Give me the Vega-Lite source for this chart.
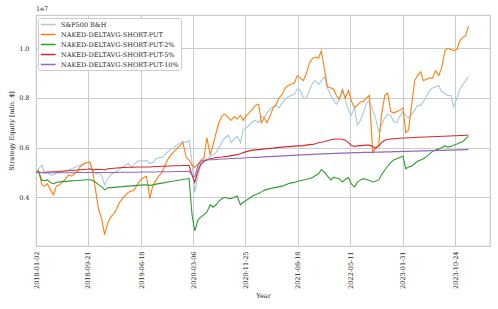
{
  "$schema": "https://vega.github.io/schema/vega-lite/v6.json",
  "width": 454,
  "height": 231,
  "autosize": "none",
  "padding": {"left": 36, "top": 15, "right": 8, "bottom": 63},
  "background": "white",
  "config": {
    "font": "DejaVu Serif",
    "view": {"stroke": "#cccccc", "strokeWidth": 1.2},
    "axis": {"grid": true, "gridColor": "#cccccc", "gridWidth": 1, "domain": false, "ticks": false, "labelFont": "DejaVu Serif", "labelFontSize": 6.5, "labelColor": "#262626", "titleFont": "DejaVu Serif", "titleFontSize": 6.5, "titleFontWeight": "normal", "titleColor": "#262626"},
    "legend": {"orient": "none", "legendX": 2, "legendY": 3, "fillColor": "white", "strokeColor": "#cccccc", "padding": 2, "cornerRadius": 2, "symbolType": "M-1,0H3", "symbolStrokeWidth": 1.5, "symbolSize": 55, "labelFont": "DejaVu Serif", "labelFontSize": 6.5, "labelColor": "#262626", "rowPadding": 2, "labelOffset": 12}
  },
  "title": {"text": "1e7", "anchor": "start", "frame": "group", "fontSize": 6.5, "fontWeight": "normal", "font": "DejaVu Serif", "color": "#262626", "offset": 3},
  "data": {"values": [
    {"d":"2018-01-02","spx":5.0e6,"naked":5.0e6,"p2":5.0e6,"p5":5.0e6,"p10":5.0e6},
    {"d":"2018-01-15","spx":5.15e6,"naked":5.08e6,"p2":5.02e6,"p5":5.01e6,"p10":5.0e6},
    {"d":"2018-02-01","spx":5.3e6,"naked":4.5e6,"p2":4.68e6,"p5":5.0e6,"p10":4.99e6},
    {"d":"2018-02-15","spx":4.95e6,"naked":4.45e6,"p2":4.68e6,"p5":5.01e6,"p10":4.99e6},
    {"d":"2018-03-01","spx":5.0e6,"naked":4.55e6,"p2":4.7e6,"p5":5.02e6,"p10":4.99e6},
    {"d":"2018-03-15","spx":4.9e6,"naked":4.3e6,"p2":4.6e6,"p5":5.02e6,"p10":4.99e6},
    {"d":"2018-04-01","spx":4.9e6,"naked":4.1e6,"p2":4.55e6,"p5":5.03e6,"p10":4.99e6},
    {"d":"2018-04-15","spx":5.0e6,"naked":4.45e6,"p2":4.6e6,"p5":5.03e6,"p10":4.99e6},
    {"d":"2018-05-01","spx":5.0e6,"naked":4.5e6,"p2":4.62e6,"p5":5.05e6,"p10":4.99e6},
    {"d":"2018-05-15","spx":5.05e6,"naked":4.6e6,"p2":4.63e6,"p5":5.05e6,"p10":4.99e6},
    {"d":"2018-06-01","spx":5.08e6,"naked":4.75e6,"p2":4.64e6,"p5":5.06e6,"p10":4.99e6},
    {"d":"2018-06-15","spx":5.1e6,"naked":4.9e6,"p2":4.65e6,"p5":5.07e6,"p10":4.99e6},
    {"d":"2018-07-01","spx":5.15e6,"naked":4.85e6,"p2":4.66e6,"p5":5.08e6,"p10":4.99e6},
    {"d":"2018-07-15","spx":5.2e6,"naked":4.95e6,"p2":4.67e6,"p5":5.09e6,"p10":4.99e6},
    {"d":"2018-08-01","spx":5.25e6,"naked":5.05e6,"p2":4.68e6,"p5":5.1e6,"p10":5.0e6},
    {"d":"2018-08-15","spx":5.3e6,"naked":5.25e6,"p2":4.69e6,"p5":5.11e6,"p10":5.0e6},
    {"d":"2018-09-01","spx":5.35e6,"naked":5.35e6,"p2":4.7e6,"p5":5.12e6,"p10":5.0e6},
    {"d":"2018-09-15","spx":5.4e6,"naked":5.4e6,"p2":4.71e6,"p5":5.13e6,"p10":5.0e6},
    {"d":"2018-10-01","spx":5.38e6,"naked":5.42e6,"p2":4.71e6,"p5":5.15e6,"p10":5.0e6},
    {"d":"2018-10-15","spx":5.1e6,"naked":5.1e6,"p2":4.68e6,"p5":5.1e6,"p10":5.0e6},
    {"d":"2018-11-01","spx":4.95e6,"naked":4.2e6,"p2":4.6e6,"p5":5.13e6,"p10":5.0e6},
    {"d":"2018-11-15","spx":5.0e6,"naked":3.5e6,"p2":4.5e6,"p5":5.12e6,"p10":5.0e6},
    {"d":"2018-12-01","spx":4.85e6,"naked":3.1e6,"p2":4.42e6,"p5":5.12e6,"p10":5.0e6},
    {"d":"2018-12-15","spx":4.5e6,"naked":2.5e6,"p2":4.3e6,"p5":5.1e6,"p10":5.0e6},
    {"d":"2019-01-01","spx":4.75e6,"naked":3.0e6,"p2":4.38e6,"p5":5.15e6,"p10":5.0e6},
    {"d":"2019-01-15","spx":4.9e6,"naked":3.2e6,"p2":4.39e6,"p5":5.16e6,"p10":5.0e6},
    {"d":"2019-02-01","spx":5.0e6,"naked":3.35e6,"p2":4.4e6,"p5":5.17e6,"p10":5.0e6},
    {"d":"2019-02-15","spx":5.05e6,"naked":3.55e6,"p2":4.41e6,"p5":5.18e6,"p10":5.0e6},
    {"d":"2019-03-01","spx":5.15e6,"naked":3.8e6,"p2":4.42e6,"p5":5.19e6,"p10":5.01e6},
    {"d":"2019-03-15","spx":5.2e6,"naked":3.95e6,"p2":4.43e6,"p5":5.2e6,"p10":5.01e6},
    {"d":"2019-04-01","spx":5.3e6,"naked":4.1e6,"p2":4.45e6,"p5":5.2e6,"p10":5.01e6},
    {"d":"2019-04-15","spx":5.35e6,"naked":4.2e6,"p2":4.45e6,"p5":5.21e6,"p10":5.01e6},
    {"d":"2019-05-01","spx":5.2e6,"naked":4.25e6,"p2":4.46e6,"p5":5.21e6,"p10":5.01e6},
    {"d":"2019-05-15","spx":5.35e6,"naked":4.3e6,"p2":4.47e6,"p5":5.21e6,"p10":5.01e6},
    {"d":"2019-06-01","spx":5.45e6,"naked":4.55e6,"p2":4.48e6,"p5":5.22e6,"p10":5.01e6},
    {"d":"2019-06-15","spx":5.5e6,"naked":4.7e6,"p2":4.49e6,"p5":5.22e6,"p10":5.02e6},
    {"d":"2019-07-01","spx":5.45e6,"naked":4.8e6,"p2":4.5e6,"p5":5.22e6,"p10":5.02e6},
    {"d":"2019-07-15","spx":5.5e6,"naked":4.85e6,"p2":4.5e6,"p5":5.22e6,"p10":5.02e6},
    {"d":"2019-08-01","spx":5.35e6,"naked":3.95e6,"p2":4.48e6,"p5":5.22e6,"p10":5.02e6},
    {"d":"2019-08-15","spx":5.4e6,"naked":4.45e6,"p2":4.5e6,"p5":5.23e6,"p10":5.02e6},
    {"d":"2019-09-01","spx":5.55e6,"naked":4.7e6,"p2":4.53e6,"p5":5.24e6,"p10":5.02e6},
    {"d":"2019-09-15","spx":5.6e6,"naked":4.85e6,"p2":4.55e6,"p5":5.24e6,"p10":5.03e6},
    {"d":"2019-10-01","spx":5.6e6,"naked":5.0e6,"p2":4.57e6,"p5":5.25e6,"p10":5.03e6},
    {"d":"2019-10-15","spx":5.7e6,"naked":5.25e6,"p2":4.59e6,"p5":5.25e6,"p10":5.03e6},
    {"d":"2019-11-01","spx":5.85e6,"naked":5.55e6,"p2":4.62e6,"p5":5.26e6,"p10":5.03e6},
    {"d":"2019-11-15","spx":5.95e6,"naked":5.7e6,"p2":4.64e6,"p5":5.26e6,"p10":5.03e6},
    {"d":"2019-12-01","spx":6.0e6,"naked":5.85e6,"p2":4.66e6,"p5":5.27e6,"p10":5.04e6},
    {"d":"2019-12-15","spx":6.1e6,"naked":5.95e6,"p2":4.68e6,"p5":5.27e6,"p10":5.04e6},
    {"d":"2020-01-01","spx":6.2e6,"naked":6.1e6,"p2":4.7e6,"p5":5.27e6,"p10":5.04e6},
    {"d":"2020-01-15","spx":6.25e6,"naked":6.2e6,"p2":4.73e6,"p5":5.28e6,"p10":5.04e6},
    {"d":"2020-02-01","spx":6.2e6,"naked":5.6e6,"p2":4.74e6,"p5":5.28e6,"p10":5.04e6},
    {"d":"2020-02-15","spx":6.3e6,"naked":5.5e6,"p2":4.76e6,"p5":5.28e6,"p10":5.05e6},
    {"d":"2020-03-01","spx":5.4e6,"naked":5.3e6,"p2":3.3e6,"p5":4.9e6,"p10":4.9e6},
    {"d":"2020-03-15","spx":4.2e6,"naked":5.2e6,"p2":2.65e6,"p5":4.6e6,"p10":4.82e6},
    {"d":"2020-04-01","spx":4.9e6,"naked":5.35e6,"p2":3.1e6,"p5":5.1e6,"p10":5.3e6},
    {"d":"2020-04-15","spx":5.3e6,"naked":5.5e6,"p2":3.2e6,"p5":5.35e6,"p10":5.45e6},
    {"d":"2020-05-01","spx":5.45e6,"naked":5.6e6,"p2":3.3e6,"p5":5.45e6,"p10":5.5e6},
    {"d":"2020-05-15","spx":5.5e6,"naked":6.4e6,"p2":3.4e6,"p5":5.5e6,"p10":5.5e6},
    {"d":"2020-06-01","spx":5.65e6,"naked":5.7e6,"p2":3.7e6,"p5":5.55e6,"p10":5.51e6},
    {"d":"2020-06-15","spx":5.7e6,"naked":6.1e6,"p2":3.6e6,"p5":5.57e6,"p10":5.51e6},
    {"d":"2020-07-01","spx":5.8e6,"naked":6.6e6,"p2":3.7e6,"p5":5.6e6,"p10":5.52e6},
    {"d":"2020-07-15","spx":6.0e6,"naked":7.0e6,"p2":3.85e6,"p5":5.61e6,"p10":5.53e6},
    {"d":"2020-08-01","spx":6.25e6,"naked":7.3e6,"p2":3.95e6,"p5":5.62e6,"p10":5.54e6},
    {"d":"2020-08-15","spx":6.4e6,"naked":7.35e6,"p2":4.0e6,"p5":5.64e6,"p10":5.54e6},
    {"d":"2020-09-01","spx":6.5e6,"naked":7.2e6,"p2":3.95e6,"p5":5.66e6,"p10":5.55e6},
    {"d":"2020-09-15","spx":6.2e6,"naked":7.1e6,"p2":3.95e6,"p5":5.68e6,"p10":5.56e6},
    {"d":"2020-10-01","spx":6.35e6,"naked":7.25e6,"p2":4.0e6,"p5":5.7e6,"p10":5.56e6},
    {"d":"2020-10-15","spx":6.45e6,"naked":7.15e6,"p2":4.05e6,"p5":5.72e6,"p10":5.57e6},
    {"d":"2020-11-01","spx":6.2e6,"naked":7.3e6,"p2":3.7e6,"p5":5.75e6,"p10":5.57e6},
    {"d":"2020-11-15","spx":6.7e6,"naked":7.1e6,"p2":3.8e6,"p5":5.8e6,"p10":5.58e6},
    {"d":"2020-12-01","spx":6.8e6,"naked":7.3e6,"p2":3.88e6,"p5":5.84e6,"p10":5.59e6},
    {"d":"2020-12-15","spx":6.9e6,"naked":7.4e6,"p2":3.95e6,"p5":5.87e6,"p10":5.6e6},
    {"d":"2021-01-01","spx":7.05e6,"naked":7.55e6,"p2":4.05e6,"p5":5.9e6,"p10":5.6e6},
    {"d":"2021-01-15","spx":7.1e6,"naked":7.7e6,"p2":4.1e6,"p5":5.91e6,"p10":5.61e6},
    {"d":"2021-02-01","spx":7.0e6,"naked":7.75e6,"p2":4.15e6,"p5":5.92e6,"p10":5.61e6},
    {"d":"2021-02-15","spx":7.25e6,"naked":7.0e6,"p2":4.22e6,"p5":5.93e6,"p10":5.62e6},
    {"d":"2021-03-01","spx":7.2e6,"naked":7.2e6,"p2":4.28e6,"p5":5.95e6,"p10":5.63e6},
    {"d":"2021-03-15","spx":7.4e6,"naked":7.0e6,"p2":4.32e6,"p5":5.96e6,"p10":5.64e6},
    {"d":"2021-04-01","spx":7.55e6,"naked":7.3e6,"p2":4.35e6,"p5":5.97e6,"p10":5.64e6},
    {"d":"2021-04-15","spx":7.65e6,"naked":7.6e6,"p2":4.38e6,"p5":5.98e6,"p10":5.65e6},
    {"d":"2021-05-01","spx":7.7e6,"naked":7.75e6,"p2":4.4e6,"p5":6.0e6,"p10":5.65e6},
    {"d":"2021-05-15","spx":7.6e6,"naked":8.0e6,"p2":4.43e6,"p5":6.01e6,"p10":5.66e6},
    {"d":"2021-06-01","spx":7.8e6,"naked":8.15e6,"p2":4.45e6,"p5":6.02e6,"p10":5.67e6},
    {"d":"2021-06-15","spx":7.95e6,"naked":8.4e6,"p2":4.5e6,"p5":6.03e6,"p10":5.67e6},
    {"d":"2021-07-01","spx":8.05e6,"naked":8.5e6,"p2":4.55e6,"p5":6.04e6,"p10":5.68e6},
    {"d":"2021-07-15","spx":8.1e6,"naked":8.55e6,"p2":4.58e6,"p5":6.05e6,"p10":5.69e6},
    {"d":"2021-08-01","spx":8.15e6,"naked":8.6e6,"p2":4.6e6,"p5":6.06e6,"p10":5.69e6},
    {"d":"2021-08-15","spx":8.35e6,"naked":8.9e6,"p2":4.64e6,"p5":6.07e6,"p10":5.7e6},
    {"d":"2021-09-01","spx":8.3e6,"naked":8.8e6,"p2":4.68e6,"p5":6.07e6,"p10":5.71e6},
    {"d":"2021-09-15","spx":8.0e6,"naked":8.7e6,"p2":4.7e6,"p5":6.08e6,"p10":5.71e6},
    {"d":"2021-10-01","spx":8.0e6,"naked":9.0e6,"p2":4.72e6,"p5":6.1e6,"p10":5.72e6},
    {"d":"2021-10-15","spx":8.3e6,"naked":9.4e6,"p2":4.76e6,"p5":6.12e6,"p10":5.72e6},
    {"d":"2021-11-01","spx":8.6e6,"naked":9.6e6,"p2":4.8e6,"p5":6.13e6,"p10":5.73e6},
    {"d":"2021-11-15","spx":8.7e6,"naked":9.65e6,"p2":4.88e6,"p5":6.16e6,"p10":5.74e6},
    {"d":"2021-12-01","spx":8.55e6,"naked":9.6e6,"p2":4.95e6,"p5":6.2e6,"p10":5.74e6},
    {"d":"2021-12-15","spx":8.7e6,"naked":9.9e6,"p2":5.12e6,"p5":6.22e6,"p10":5.75e6},
    {"d":"2022-01-01","spx":8.85e6,"naked":9.1e6,"p2":5.0e6,"p5":6.25e6,"p10":5.75e6},
    {"d":"2022-01-15","spx":8.4e6,"naked":8.45e6,"p2":4.85e6,"p5":6.28e6,"p10":5.76e6},
    {"d":"2022-02-01","spx":8.1e6,"naked":8.4e6,"p2":4.7e6,"p5":6.32e6,"p10":5.76e6},
    {"d":"2022-02-15","spx":7.9e6,"naked":8.35e6,"p2":4.8e6,"p5":6.34e6,"p10":5.77e6},
    {"d":"2022-03-01","spx":7.75e6,"naked":8.1e6,"p2":4.78e6,"p5":6.35e6,"p10":5.77e6},
    {"d":"2022-03-15","spx":7.9e6,"naked":7.95e6,"p2":4.75e6,"p5":6.35e6,"p10":5.78e6},
    {"d":"2022-04-01","spx":8.4e6,"naked":8.3e6,"p2":4.62e6,"p5":6.34e6,"p10":5.78e6},
    {"d":"2022-04-15","spx":7.9e6,"naked":8.0e6,"p2":4.72e6,"p5":6.3e6,"p10":5.78e6},
    {"d":"2022-05-01","spx":7.5e6,"naked":8.3e6,"p2":4.8e6,"p5":6.2e6,"p10":5.79e6},
    {"d":"2022-05-15","spx":7.3e6,"naked":7.9e6,"p2":4.55e6,"p5":6.1e6,"p10":5.79e6},
    {"d":"2022-06-01","spx":7.6e6,"naked":7.6e6,"p2":4.42e6,"p5":6.05e6,"p10":5.8e6},
    {"d":"2022-06-15","spx":6.9e6,"naked":7.7e6,"p2":4.6e6,"p5":6.07e6,"p10":5.8e6},
    {"d":"2022-07-01","spx":7.1e6,"naked":7.85e6,"p2":4.7e6,"p5":6.08e6,"p10":5.8e6},
    {"d":"2022-07-15","spx":7.4e6,"naked":7.85e6,"p2":4.75e6,"p5":6.09e6,"p10":5.81e6},
    {"d":"2022-08-01","spx":7.8e6,"naked":8.0e6,"p2":4.72e6,"p5":6.1e6,"p10":5.81e6},
    {"d":"2022-08-15","spx":7.9e6,"naked":8.1e6,"p2":4.68e6,"p5":6.1e6,"p10":5.81e6},
    {"d":"2022-09-01","spx":7.5e6,"naked":5.8e6,"p2":4.62e6,"p5":6.05e6,"p10":5.81e6},
    {"d":"2022-09-15","spx":7.2e6,"naked":6.0e6,"p2":4.65e6,"p5":5.98e6,"p10":5.82e6},
    {"d":"2022-10-01","spx":6.65e6,"naked":6.1e6,"p2":4.7e6,"p5":6.05e6,"p10":5.82e6},
    {"d":"2022-10-15","spx":6.9e6,"naked":7.3e6,"p2":4.9e6,"p5":6.2e6,"p10":5.82e6},
    {"d":"2022-11-01","spx":7.2e6,"naked":8.1e6,"p2":5.1e6,"p5":6.3e6,"p10":5.83e6},
    {"d":"2022-11-15","spx":7.35e6,"naked":8.2e6,"p2":5.25e6,"p5":6.33e6,"p10":5.83e6},
    {"d":"2022-12-01","spx":7.3e6,"naked":7.45e6,"p2":5.4e6,"p5":6.35e6,"p10":5.83e6},
    {"d":"2022-12-15","spx":7.05e6,"naked":7.4e6,"p2":5.5e6,"p5":6.36e6,"p10":5.84e6},
    {"d":"2023-01-01","spx":7.0e6,"naked":7.45e6,"p2":5.55e6,"p5":6.37e6,"p10":5.84e6},
    {"d":"2023-01-15","spx":7.25e6,"naked":7.5e6,"p2":5.6e6,"p5":6.38e6,"p10":5.84e6},
    {"d":"2023-02-01","spx":7.45e6,"naked":7.6e6,"p2":5.65e6,"p5":6.39e6,"p10":5.85e6},
    {"d":"2023-02-15","spx":7.3e6,"naked":6.6e6,"p2":5.15e6,"p5":6.39e6,"p10":5.85e6},
    {"d":"2023-03-01","spx":7.2e6,"naked":6.7e6,"p2":5.22e6,"p5":6.4e6,"p10":5.85e6},
    {"d":"2023-03-15","spx":7.35e6,"naked":7.6e6,"p2":5.25e6,"p5":6.4e6,"p10":5.86e6},
    {"d":"2023-04-01","spx":7.5e6,"naked":8.7e6,"p2":5.35e6,"p5":6.41e6,"p10":5.86e6},
    {"d":"2023-04-15","spx":7.7e6,"naked":8.9e6,"p2":5.45e6,"p5":6.42e6,"p10":5.86e6},
    {"d":"2023-05-01","spx":7.7e6,"naked":9.05e6,"p2":5.5e6,"p5":6.42e6,"p10":5.87e6},
    {"d":"2023-05-15","spx":7.85e6,"naked":8.7e6,"p2":5.55e6,"p5":6.43e6,"p10":5.87e6},
    {"d":"2023-06-01","spx":8.1e6,"naked":8.75e6,"p2":5.65e6,"p5":6.43e6,"p10":5.87e6},
    {"d":"2023-06-15","spx":8.3e6,"naked":8.8e6,"p2":5.75e6,"p5":6.44e6,"p10":5.88e6},
    {"d":"2023-07-01","spx":8.4e6,"naked":8.8e6,"p2":5.85e6,"p5":6.44e6,"p10":5.88e6},
    {"d":"2023-07-15","spx":8.45e6,"naked":9.1e6,"p2":5.9e6,"p5":6.45e6,"p10":5.88e6},
    {"d":"2023-08-01","spx":8.5e6,"naked":8.9e6,"p2":5.95e6,"p5":6.45e6,"p10":5.89e6},
    {"d":"2023-08-15","spx":8.25e6,"naked":9.2e6,"p2":6.0e6,"p5":6.46e6,"p10":5.89e6},
    {"d":"2023-09-01","spx":8.2e6,"naked":9.9e6,"p2":6.08e6,"p5":6.46e6,"p10":5.89e6},
    {"d":"2023-09-15","spx":8.1e6,"naked":10.0e6,"p2":6.02e6,"p5":6.47e6,"p10":5.9e6},
    {"d":"2023-10-01","spx":8.1e6,"naked":9.95e6,"p2":6.05e6,"p5":6.47e6,"p10":5.9e6},
    {"d":"2023-10-15","spx":7.65e6,"naked":9.9e6,"p2":6.1e6,"p5":6.48e6,"p10":5.9e6},
    {"d":"2023-11-01","spx":8.0e6,"naked":9.95e6,"p2":6.15e6,"p5":6.48e6,"p10":5.91e6},
    {"d":"2023-11-15","spx":8.35e6,"naked":10.3e6,"p2":6.2e6,"p5":6.49e6,"p10":5.91e6},
    {"d":"2023-12-01","spx":8.55e6,"naked":10.45e6,"p2":6.25e6,"p5":6.49e6,"p10":5.91e6},
    {"d":"2023-12-15","spx":8.7e6,"naked":10.5e6,"p2":6.35e6,"p5":6.5e6,"p10":5.92e6},
    {"d":"2023-12-29","spx":8.85e6,"naked":10.9e6,"p2":6.45e6,"p5":6.5e6,"p10":5.92e6}
  ]},
  "transform": [{"fold": ["spx", "naked", "p2", "p5", "p10"], "as": ["strategy", "equity"]}],
  "mark": {"type": "line", "strokeWidth": 1.1},
  "encoding": {
    "x": {
      "field": "d", "type": "temporal",
      "scale": {"domain": [{"year": 2018, "month": 1, "date": 2, "utc": true}, {"year": 2024, "month": 4, "date": 16, "utc": true}]},
      "axis": {
        "values": [
          {"year": 2018, "month": 1, "date": 2, "utc": true},
          {"year": 2018, "month": 9, "date": 21, "utc": true},
          {"year": 2019, "month": 6, "date": 18, "utc": true},
          {"year": 2020, "month": 3, "date": 6, "utc": true},
          {"year": 2020, "month": 11, "date": 25, "utc": true},
          {"year": 2021, "month": 8, "date": 18, "utc": true},
          {"year": 2022, "month": 5, "date": 11, "utc": true},
          {"year": 2023, "month": 1, "date": 31, "utc": true},
          {"year": 2023, "month": 10, "date": 24, "utc": true}
        ],
        "labelExpr": "utcFormat(datum.value, '%Y-%m-%d')",
        "labelAngle": 270, "labelAlign": "right", "labelBaseline": "middle",
        "labelPadding": 5, "labelOverlap": false, "labelFlush": false,
        "title": "Year", "titlePadding": 4
      }
    },
    "y": {
      "field": "equity", "type": "quantitative",
      "scale": {"domain": [2040000, 11340000], "nice": false, "zero": false},
      "axis": {
        "values": [4000000, 6000000, 8000000, 10000000],
        "labelExpr": "format(datum.value / 10000000, '.1f')",
        "labelPadding": 7, "title": "Strategy Equity [mln. $]", "titlePadding": 4
      }
    },
    "color": {
      "field": "strategy", "type": "nominal",
      "scale": {"domain": ["spx", "naked", "p2", "p5", "p10"], "range": ["#a6c9e2", "#ff7f0e", "#2ca02c", "#d62728", "#9467bd"]},
      "legend": {
        "title": null,
        "labelExpr": "({'spx': 'S&P500 B&H', 'naked': 'NAKED-DELTAVG-SHORT-PUT', 'p2': 'NAKED-DELTAVG-SHORT-PUT-2%', 'p5': 'NAKED-DELTAVG-SHORT-PUT-5%', 'p10': 'NAKED-DELTAVG-SHORT-PUT-10%'})[datum.label]"
      }
    }
  }
}
